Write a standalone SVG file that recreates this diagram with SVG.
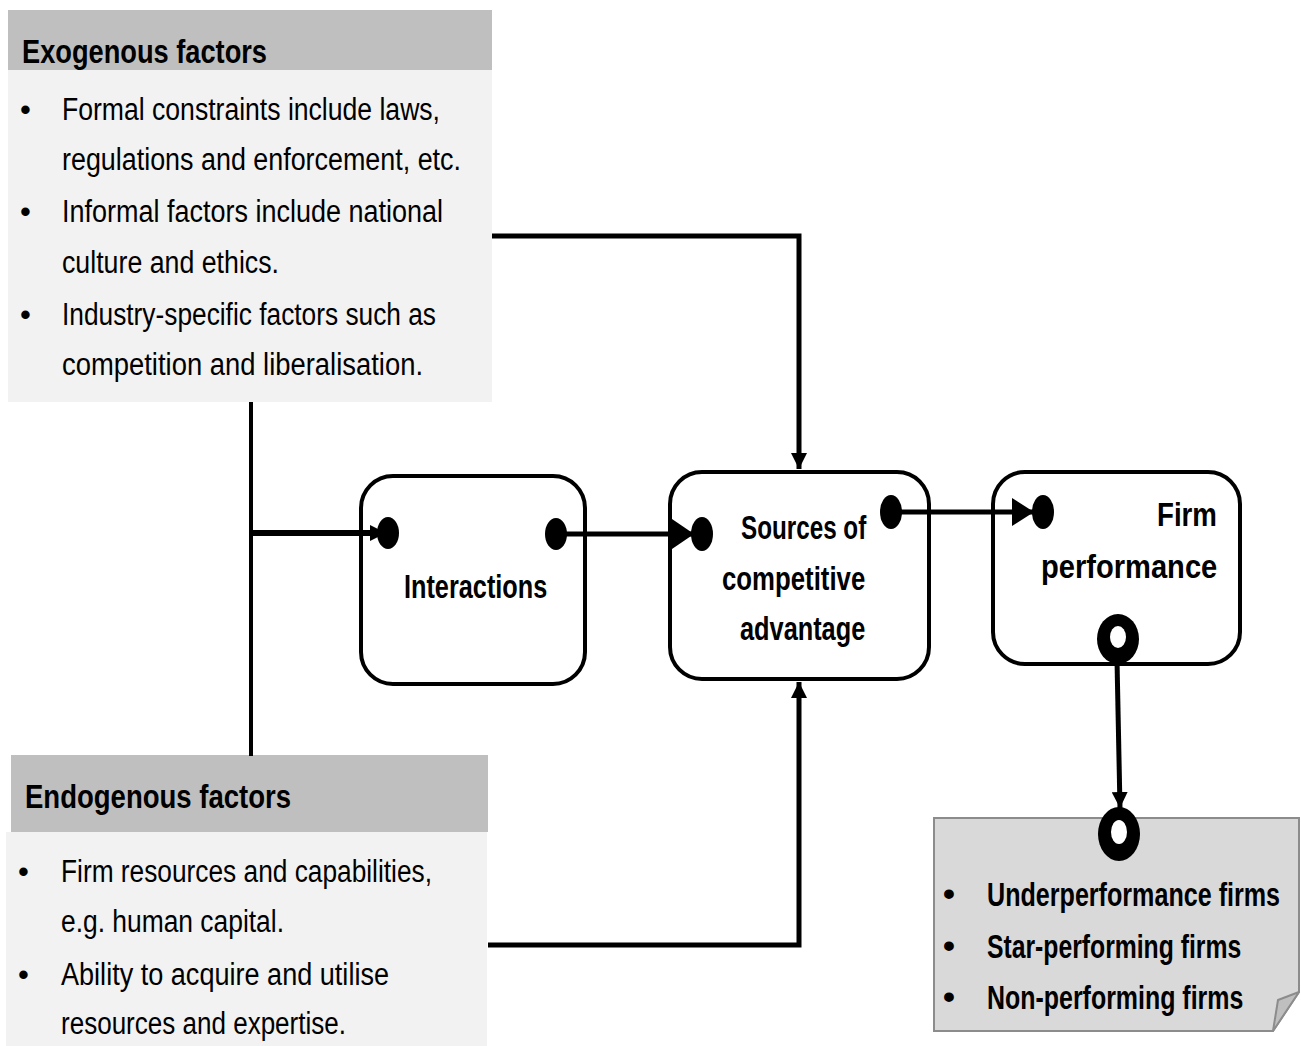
<svg xmlns="http://www.w3.org/2000/svg" width="1301" height="1046" viewBox="0 0 1301 1046">
<style>
.hdr{fill:#bfbfbf}
.body{fill:#f2f2f2}
.t{font-family:"Liberation Sans",Arial,sans-serif;font-size:31px;fill:#000}
.h{font-family:"Liberation Sans",Arial,sans-serif;font-size:33px;fill:#000;font-weight:bold}
.n{font-family:"Liberation Sans",Arial,sans-serif;font-size:34px;fill:#000;font-weight:bold}
.box{fill:#fff;stroke:#000;stroke-width:4}
.dot{fill:#000}
.c{fill:none;stroke:#000;stroke-width:5}
.c4{fill:none;stroke:#000;stroke-width:4}
</style>
<defs>
<marker id="ah" markerUnits="userSpaceOnUse" markerWidth="18" markerHeight="16" refX="16" refY="8" orient="auto">
<path d="M0,0 L16,8 L0,16 Z" fill="#000"/>
</marker>
<marker id="ahBig" markerUnits="userSpaceOnUse" markerWidth="24" markerHeight="30" refX="22" refY="15" orient="auto">
<path d="M0,0 L22,15 L0,30 Z" fill="#000"/>
</marker>
<marker id="ahMid" markerUnits="userSpaceOnUse" markerWidth="24" markerHeight="28" refX="22" refY="14" orient="auto">
<path d="M0,0 L22,14 L0,28 Z" fill="#000"/>
</marker>
</defs>
<rect width="1301" height="1046" fill="#fff"/>

<g id="exogenous">
<rect x="8" y="10" width="484" height="60" class="hdr"/>
<rect x="8" y="70" width="484" height="332" class="body"/>
<text x="22" y="63" class="h" textLength="245" lengthAdjust="spacingAndGlyphs">Exogenous factors</text>
<text x="20" y="120" class="t">•</text>
<text x="62" y="120" class="t" textLength="378" lengthAdjust="spacingAndGlyphs">Formal constraints include laws,</text>
<text x="62" y="170" class="t" textLength="399" lengthAdjust="spacingAndGlyphs">regulations and enforcement, etc.</text>
<text x="20" y="222" class="t">•</text>
<text x="62" y="222" class="t" textLength="381" lengthAdjust="spacingAndGlyphs">Informal factors include national</text>
<text x="62" y="273" class="t" textLength="217" lengthAdjust="spacingAndGlyphs">culture and ethics.</text>
<text x="20" y="325" class="t">•</text>
<text x="62" y="325" class="t" textLength="374" lengthAdjust="spacingAndGlyphs">Industry-specific factors such as</text>
<text x="62" y="375" class="t" textLength="361" lengthAdjust="spacingAndGlyphs">competition and liberalisation.</text>
</g>

<g id="endogenous">
<rect x="11" y="755" width="477" height="77" class="hdr"/>
<rect x="6" y="832" width="481" height="214" class="body"/>
<text x="25" y="808" class="h" textLength="266" lengthAdjust="spacingAndGlyphs">Endogenous factors</text>
<text x="18" y="882" class="t">•</text>
<text x="61" y="882" class="t" textLength="371" lengthAdjust="spacingAndGlyphs">Firm resources and capabilities,</text>
<text x="61" y="932" class="t" textLength="223" lengthAdjust="spacingAndGlyphs">e.g. human capital.</text>
<text x="18" y="985" class="t">•</text>
<text x="61" y="985" class="t" textLength="328" lengthAdjust="spacingAndGlyphs">Ability to acquire and utilise</text>
<text x="61" y="1034" class="t" textLength="285" lengthAdjust="spacingAndGlyphs">resources and expertise.</text>
</g>

<g id="interactions">
<rect x="361" y="476" width="224" height="208" rx="32" class="box"/>
<ellipse cx="388" cy="533" rx="11" ry="16" class="dot"/>
<ellipse cx="556" cy="534" rx="11" ry="16" class="dot"/>
<text transform="translate(404,598) scale(0.75,1)" class="n" textLength="191" lengthAdjust="spacingAndGlyphs">Interactions</text>
</g>

<g id="sources">
<rect x="670" y="472" width="259" height="207" rx="32" class="box"/>
<ellipse cx="702" cy="534" rx="11" ry="17" class="dot"/>
<ellipse cx="891" cy="512" rx="11" ry="17" class="dot"/>
<text transform="translate(741,539) scale(0.75,1)" class="n" textLength="167" lengthAdjust="spacingAndGlyphs">Sources of</text>
<text transform="translate(722,590) scale(0.75,1)" class="n" textLength="191" lengthAdjust="spacingAndGlyphs">competitive</text>
<text transform="translate(740,640) scale(0.75,1)" class="n" textLength="167" lengthAdjust="spacingAndGlyphs">advantage</text>
</g>

<g id="firm-performance">
<rect x="993" y="472" width="247" height="192" rx="32" class="box"/>
<ellipse cx="1043" cy="512" rx="11" ry="17" class="dot"/>
<text transform="translate(1157,526) scale(0.75,1)" class="n" textLength="80" lengthAdjust="spacingAndGlyphs">Firm</text>
<text transform="translate(1041,578) scale(0.75,1)" class="n" textLength="235" lengthAdjust="spacingAndGlyphs">performance</text>
<ellipse cx="1118" cy="639" rx="21" ry="25" fill="#000"/>
<ellipse cx="1118" cy="637" rx="8" ry="11" fill="#fff"/>
</g>

<g id="firm-types">
<path d="M934,818 L1299,818 L1299,992 L1273,1031 L934,1031 Z" fill="#d9d9d9" stroke="#8c8c8c" stroke-width="2"/>
<path d="M1273,1031 L1278,1000 L1299,992 Z" fill="#bfbfbf" stroke="#8c8c8c" stroke-width="2" stroke-linejoin="round"/>
<ellipse cx="1119" cy="834" rx="21" ry="27" fill="#000"/>
<ellipse cx="1119" cy="832" rx="8" ry="12" fill="#fff"/>
<text x="943" y="905" class="n">•</text>
<text transform="translate(987,906) scale(0.72,1)" class="n" textLength="407" lengthAdjust="spacingAndGlyphs">Underperformance  firms</text>
<text x="943" y="957" class="n">•</text>
<text transform="translate(987,958) scale(0.72,1)" class="n" textLength="353" lengthAdjust="spacingAndGlyphs">Star-performing firms</text>
<text x="943" y="1008" class="n">•</text>
<text transform="translate(987,1009) scale(0.72,1)" class="n" textLength="356" lengthAdjust="spacingAndGlyphs">Non-performing firms</text>
</g>

<g id="connectors">
<line x1="251" y1="402" x2="251" y2="756" class="c4"/>
<line x1="251" y1="533" x2="386" y2="533" stroke="#000" stroke-width="6" marker-end="url(#ah)"/>
<line x1="560" y1="534" x2="694" y2="534" class="c" marker-end="url(#ahBig)"/>
<line x1="893" y1="512" x2="1034" y2="512" class="c" marker-end="url(#ahMid)"/>
<polyline points="492,236 799,236 799,469" class="c" marker-end="url(#ah)"/>
<polyline points="488,945 799,945 799,682" class="c" marker-end="url(#ah)"/>
<line x1="1117" y1="660" x2="1120" y2="808" class="c" marker-end="url(#ah)"/>
</g>
</svg>
